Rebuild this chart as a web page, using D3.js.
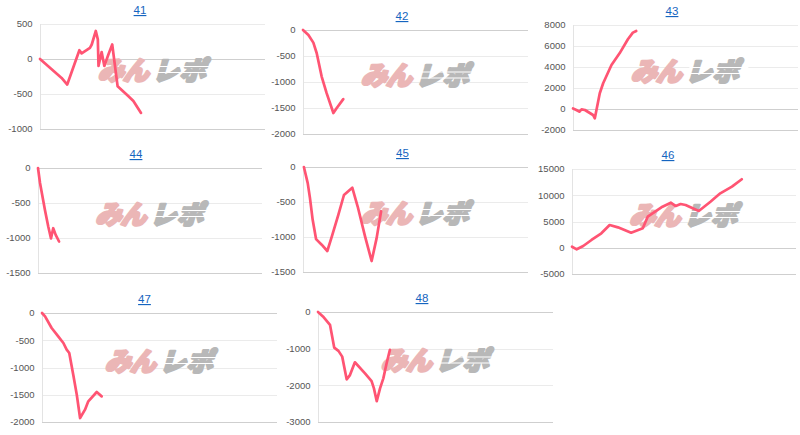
<!DOCTYPE html>
<html>
<head>
<script src="https://d3js.org/d3.v7.min.js"></script>
<style type="text/css">
	body { margin: 0; background: #fff; }
	svg { font-family: Arial, "Liberation Sans", sans-serif; }
	.grid line { stroke: #ebebeb; shape-rendering: crispEdges; }
	.grid line.base { stroke: #cfcfcf; }
	.yaxis { stroke: #e3e3e3; shape-rendering: crispEdges; }
	.tick-label { font-size: 9.5px; fill: #555; }
	.title { font-size: 11.5px; fill: #1565c0; text-decoration: underline; }
	.series { fill: none; stroke: #ff5473; stroke-width: 2.7; stroke-linejoin: round; stroke-linecap: round; }
	.mark text { font-family: "Noto Sans CJK JP", sans-serif; font-weight: 900; font-size: 26px; stroke-width: 2.6; stroke-linejoin: round; }
</style>
</head>
<body>
<script type="text/javascript">
	// chart titles (machine numbers)
	var titles = ["41", "42", "43", "44", "45", "46", "47", "48"];

	// y domains and tick values per chart
	var domains = [[-1000, 500], [-2000, 0], [-2000, 8000], [-1500, 0], [-1500, 0], [-5000, 15000], [-2000, 0], [-3000, 0]];
	var ticks = [
		[500, 0, -500, -1000],
		[0, -500, -1000, -1500, -2000],
		[8000, 6000, 4000, 2000, 0, -2000],
		[0, -500, -1000, -1500],
		[0, -500, -1000, -1500],
		[15000, 10000, 5000, 0, -5000],
		[0, -500, -1000, -1500, -2000],
		[0, -1000, -2000, -3000]
	];

	// [step (0-100 of the span), balance]
	var s41 = [[0, 0], [9.6, -270], [12.1, -365], [17.5, 125], [18.5, 80], [22.2, 160], [23.0, 207], [24.8, 400], [25.7, 280], [26.0, -100], [27.4, 100], [28.6, -100], [30.4, 65], [32.1, 207], [34.5, -390], [39.2, -530], [41.5, -600], [44.9, -770]];
	var s42 = [[0, 0], [2.4, -96], [4.6, -243], [6.1, -447], [8.3, -895], [10.5, -1214], [13.5, -1597], [15.0, -1500], [17.9, -1330]];
	var s43 = [[0, 50], [1.5, -95], [2.8, -257], [3.8, -30], [5.3, -95], [8.9, -570], [9.7, -890], [11.9, 1495], [13.4, 2450], [17.1, 4190], [20.7, 5300], [24.4, 6640], [26.6, 7270], [28.1, 7430]];
	var s44 = [[0, 0], [0.9, -215], [3.1, -600], [4.6, -840], [5.8, -1005], [6.8, -860], [7.9, -955], [9.4, -1050]];
	var s45 = [[0.4, 0], [2.1, -230], [3.1, -445], [4.3, -755], [5.8, -1030], [8.3, -1110], [10.8, -1200], [12.8, -995], [15.7, -685], [18.2, -400], [21.9, -295], [24.3, -565], [27.6, -995], [30.5, -1343], [32.7, -1020], [34.7, -635]];
	var s46 = [[0, 200], [2.1, -300], [5.0, 330], [8.7, 1480], [13.1, 2750], [16.8, 4330], [20.5, 3890], [26.4, 2870], [31.6, 3700], [33.8, 5910], [40.4, 7820], [44.1, 8580], [46.3, 7950], [48.5, 8330], [50.7, 8140], [56.6, 7000], [61.8, 8770], [66.2, 10370], [71.4, 11630], [75.8, 13040]];
	var s47 = [[0, 0], [1.3, -62], [4.1, -275], [6.9, -430], [9.1, -550], [10.5, -673], [11.6, -734], [13.3, -1132], [14.8, -1500], [16.2, -1927], [18.3, -1774], [19.7, -1621], [23.3, -1450], [25.4, -1530]];
	var s48 = [[0, 0], [2.1, -120], [5.1, -348], [6.9, -970], [8.7, -1060], [10.3, -1217], [12.2, -1837], [13.6, -1720], [15.7, -1371], [20.0, -1673], [22.8, -1884], [23.8, -2084], [25.0, -2432], [26.4, -2084], [27.8, -1810], [29.2, -1398], [30.6, -1034]];
	var series = [s41, s42, s43, s44, s45, s46, s47, s48];

	// panel placement on the page
	var layout = [
		{left: 40, right: 265, top: 24, bottom: 129, titleX: 140},
		{left: 303, right: 528, top: 30, bottom: 134, titleX: 402},
		{left: 573, right: 798, top: 25, bottom: 130, titleX: 672},
		{left: 38, right: 262, top: 168, bottom: 273, titleX: 136},
		{left: 303, right: 528, top: 167, bottom: 272, titleX: 402.5},
		{left: 572, right: 796, top: 169, bottom: 274, titleX: 668},
		{left: 42, right: 277, top: 313, bottom: 422, titleX: 144.5},
		{left: 318, right: 553, top: 312, bottom: 422, titleX: 422}
	];

	var svg = d3.select("body").append("svg")
		.attr("width", 800)
		.attr("height", 435);

	layout.forEach(function (p, i) {
		var x = d3.scaleLinear().domain([0, 100]).range([p.left, p.right]);
		var y = d3.scaleLinear().domain(domains[i]).range([p.bottom, p.top]);
		var g = svg.append("g").attr("class", "panel");

		g.append("text")
			.attr("class", "title")
			.attr("x", p.titleX)
			.attr("y", p.top - 10)
			.attr("text-anchor", "middle")
			.text(titles[i]);

		g.append("g").attr("class", "grid")
			.selectAll("line")
			.data(ticks[i])
			.enter().append("line")
			.attr("class", function (d) { return (d === 0 || d === domains[i][0]) ? "base" : null; })
			.attr("x1", p.left)
			.attr("x2", p.right)
			.attr("y1", function (d) { return Math.round(y(d)) + 0.5; })
			.attr("y2", function (d) { return Math.round(y(d)) + 0.5; });

		g.append("line")
			.attr("class", "yaxis")
			.attr("x1", p.left + 0.5).attr("x2", p.left + 0.5)
			.attr("y1", p.top).attr("y2", p.bottom);

		g.selectAll(".tick-label")
			.data(ticks[i])
			.enter().append("text")
			.attr("class", "tick-label")
			.attr("x", p.left - 7.5)
			.attr("y", function (d) { return y(d); })
			.attr("dy", "0.35em")
			.attr("text-anchor", "end")
			.text(function (d) { return d; });

		// watermark logo behind the line
		var cx = (p.left + p.right) / 2;
		var cy = (p.top + p.bottom) / 2 - 7;
		var m = g.append("g").attr("class", "mark")
			.attr("transform", "translate(" + cx + "," + cy + ") skewX(-16)");
		m.append("text")
			.attr("x", -2).attr("y", 10).attr("text-anchor", "end")
			.attr("fill", "#ebb6b6").attr("stroke", "#ebb6b6")
			.attr("letter-spacing", "-1px")
			.text("みん");
		m.append("text")
			.attr("x", 3).attr("y", 10).attr("text-anchor", "start")
			.attr("fill", "#b8b8b8").attr("stroke", "#b8b8b8")
			.attr("letter-spacing", "1px")
			.text("レポ");
		[-3, 3].forEach(function (dy) {
			m.append("line")
				.attr("x1", 3).attr("x2", 62)
				.attr("y1", dy).attr("y2", dy)
				.attr("stroke", "#fff").attr("stroke-width", 1.2);
		});

		var line = d3.line()
			.x(function (d) { return x(d[0]); })
			.y(function (d) { return y(d[1]); });

		g.append("path")
			.datum(series[i])
			.attr("class", "series")
			.attr("d", line);
	});
</script>
</body>
</html>
